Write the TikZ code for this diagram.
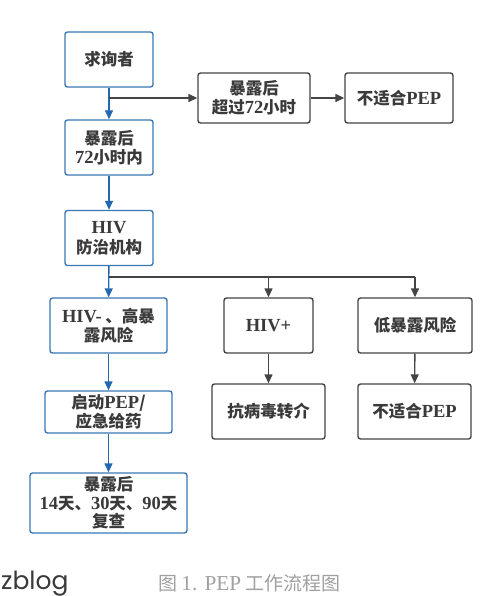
\documentclass[tikz,border=0pt]{standalone}
\usepackage{fontspec}
\setmainfont{Liberation Serif}
\newfontfamily\cjk{Noto Sans CJK SC}
\newfontfamily\latf[Scale=1.12]{Liberation Serif}
\newfontfamily\zfont{Poppins}
\newcommand\lat[1]{{\latf\bfseries #1}}
\usetikzlibrary{arrows.meta}
\definecolor{boxblue}{HTML}{3A78B5}
\definecolor{arrblue}{HTML}{2468B0}
\definecolor{boxgray}{HTML}{444444}
\definecolor{txt}{HTML}{3A3A3A}
\definecolor{capgray}{HTML}{A0A0A0}
\tikzset{
  basebox/.style={line width=1.4pt, rounded corners=2.5pt, fill=white, text=txt,
    inner sep=0pt, align=center, font=\fontsize{16.5}{19.5}\selectfont\cjk\bfseries},
  bbox/.style={basebox, draw=boxblue},
  kbox/.style={basebox, draw=boxgray},
  barr/.style={draw=arrblue, line width=1.4pt, -{Triangle[length=9pt,width=8pt]}},
  karr/.style={draw=boxgray, line width=1.4pt, -{Triangle[length=9pt,width=8pt]}},
  kline/.style={draw=boxgray, line width=1.4pt},
}
\begin{document}
\begin{tikzpicture}[x=1pt,y=-1pt]
\useasboundingbox (0,0) rectangle (500,596);
\fill[white] (0,0) rectangle (500,596);
\node[bbox, minimum width=88pt, minimum height=55pt] (q) at (109,59.5) {求询者};
\node[bbox, minimum width=88pt, minimum height=55pt] (w72) at (109,147.5) {暴露后\\\lat{72}小时内};
\node[kbox, minimum width=112pt, minimum height=50pt] (o72) at (254,98) {暴露后\\超过\lat{72}小时};
\node[kbox, minimum width=108pt, minimum height=50pt] (np1) at (399,98) {不适合\lat{PEP}};
\node[bbox, minimum width=88pt, minimum height=55pt] (hiv) at (109,238) {\lat{HIV}\\防治机构};
\node[bbox, minimum width=117pt, minimum height=55pt] (hn) at (108.5,325.5) {\lat{HIV-} 、高暴\\露风险};
\node[kbox, minimum width=89pt, minimum height=55pt] (hp) at (268.5,325.5) {\lat{HIV+}};
\node[kbox, minimum width=114pt, minimum height=55pt] (low) at (415,325.5) {低暴露风险};
\node[bbox, minimum width=127pt, minimum height=42pt] (pep) at (108.5,412) {启动\lat{PEP}/\\应急给药};
\node[kbox, minimum width=113pt, minimum height=55pt] (av) at (268.5,411.5) {抗病毒转介};
\node[kbox, minimum width=113pt, minimum height=55pt] (np2) at (414.5,411.5) {不适合\lat{PEP}};
\node[bbox, minimum width=157pt, minimum height=60pt, font=\fontsize{16.5}{18.5}\selectfont\cjk\bfseries] (rev) at (108.5,503) {暴露后\\\lat{14}天、\lat{30}天、\lat{90}天\\复查};
\coordinate (b1) at (109,98);
\coordinate (b2) at (109,277);
\draw[barr] (q) -- (w72);
\draw[karr] (b1) -- (o72);
\draw[karr] (o72) -- (np1);
\draw[barr] (w72) -- (hiv);
\draw[barr] (hiv) -- (hn);
\draw[kline] (b2) -- (b2 -| low);
\draw[karr] (b2 -| hp) -- (hp);
\draw[karr] (b2 -| low) -- (low);
\draw[karr] (hp) -- (av);
\draw[karr] (low) -- (np2);
\draw[barr] (hn) -- (pep);
\draw[barr] (pep) -- (rev);
\node[anchor=base west, inner sep=0pt, text=txt, font=\fontsize{25}{28}\selectfont\zfont] (zb) at (1,589) {zblog};
\node[anchor=base west, inner sep=0pt, text=capgray, font=\fontsize{19}{22}\selectfont\cjk] (cap) at (158,590) {图 {\latf 1. PEP} 工作流程图};
\end{tikzpicture}
\end{document}
